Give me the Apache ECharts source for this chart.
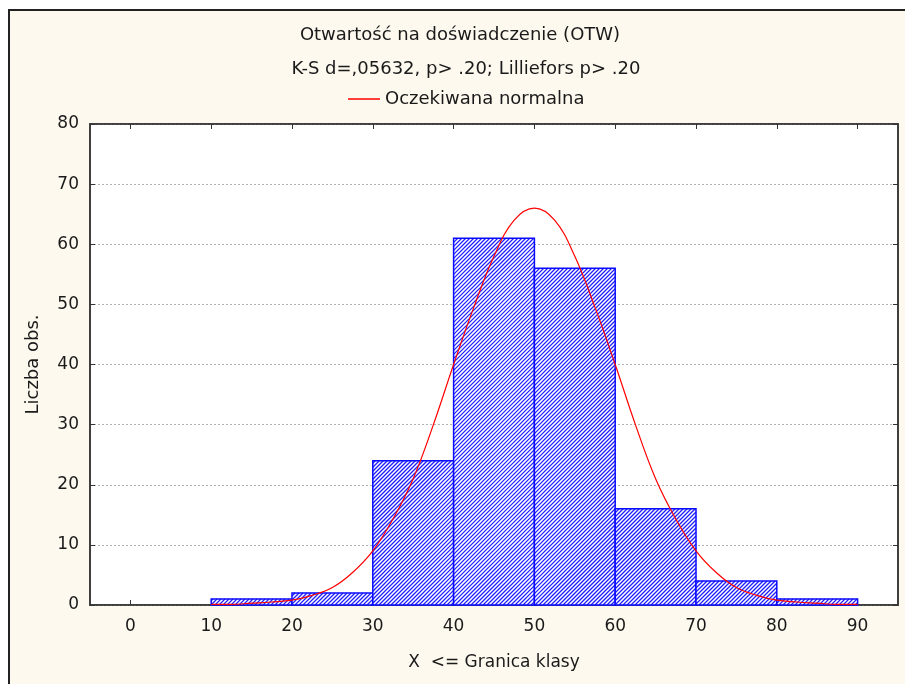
<!DOCTYPE html>
<html lang="pl">
<head>
<meta charset="UTF-8">
<title>Otwartość na doświadczenie (OTW)</title>
<style>
  html, body { margin: 0; padding: 0; background: #fff; }
  #main { width: 905px; height: 684px; }
</style>
</head>
<body>
<div id="main"></div>
<script src="https://cdn.jsdelivr.net/npm/echarts@6/dist/echarts.min.js"></script>
<script>
// histogram classes: [lower bound, upper bound, count]
var binFrom = [10, 20, 30, 40, 50, 60, 70, 80];
var binTo   = [20, 30, 40, 50, 60, 70, 80, 90];
var counts  = [1, 2, 24, 61, 56, 16, 4, 1];

// expected normal curve
var curveX = [10, 12.5, 15, 17.5, 20, 22.5, 25, 27.5, 30, 32.5, 35, 37.5, 40, 42.5, 45, 47.5, 50,
              52.5, 55, 57.5, 60, 62.5, 65, 67.5, 70, 72.5, 75, 77.5, 80, 82.5, 85, 87.5, 90];
var curveY = [0.1, 0.1, 0.3, 0.5, 0.8, 1.6, 2.9, 5.4, 9, 14.3, 21, 30, 40, 49.5, 58, 64, 66,
              64, 58, 49.5, 40, 30, 21, 14.3, 9, 5.4, 2.9, 1.6, 0.8, 0.5, 0.3, 0.1, 0.1];

var xTicks = [0, 10, 20, 30, 40, 50, 60, 70, 80, 90];

var textColor = '#1a1a1a';
var font = 'DejaVu Sans, Verdana, sans-serif';
var hatchStep = 4;

var bins = counts.map(function (v, i) { return [binFrom[i], binTo[i], v]; });
var curve = curveX.map(function (x, i) { return [x, curveY[i]]; });

// bar = white rect + "/" hatch lines (x + y = c) clipped to the rect + blue outline
function renderBin(params, api) {
    var p0 = api.coord([api.value(0), 0]);
    var p1 = api.coord([api.value(1), api.value(2)]);
    var x0 = p0[0], x1 = p1[0], y0 = p1[1], y1 = p0[1];
    var children = [{
        type: 'rect',
        shape: { x: x0, y: y0, width: x1 - x0, height: y1 - y0 },
        style: { fill: '#fff' }
    }];
    var cStart = Math.ceil((x0 + y0) / hatchStep) * hatchStep;
    for (var c = cStart; c <= x1 + y1; c += hatchStep) {
        var xa = Math.max(x0, c - y1), xb = Math.min(x1, c - y0);
        if (xb <= xa) continue;
        children.push({
            type: 'line',
            shape: { x1: xa, y1: c - xa, x2: xb, y2: c - xb },
            style: { stroke: '#2020ff', lineWidth: 1.3 }
        });
    }
    children.push({
        type: 'rect',
        shape: { x: x0, y: y0, width: x1 - x0, height: y1 - y0 },
        style: { fill: null, stroke: '#0a0aff', lineWidth: 1.5 }
    });
    return { type: 'group', children: children };
}

var chart = echarts.init(document.getElementById('main'));

var option = {
    animation: false,
    textStyle: { fontFamily: font },
    graphic: [{
        type: 'rect',
        z: -10,
        shape: { x: 9, y: 10, width: 905, height: 690 },
        style: { fill: '#fdf9ee', stroke: '#222', lineWidth: 2 }
    }],
    title: [{
        text: 'Otwartość na doświadczenie (OTW)',
        left: 455, top: 21, textAlign: 'center',
        textStyle: { fontSize: 18, fontWeight: 'normal', color: textColor, fontFamily: font }
    }, {
        text: 'K-S d=,05632, p> .20; Lilliefors p> .20',
        left: 461, top: 55, textAlign: 'center',
        textStyle: { fontSize: 18, fontWeight: 'normal', color: textColor, fontFamily: font }
    }],
    legend: {
        top: 85, left: 343,
        itemWidth: 32, itemHeight: 1.5, itemGap: 10,
        textStyle: { fontSize: 18, color: textColor, fontFamily: font },
        data: [{ name: 'Oczekiwana normalna', icon: 'rect' }]
    },
    grid: {
        left: 90, top: 124, width: 808, height: 481,
        show: true, backgroundColor: '#fff', borderColor: '#333', borderWidth: 1.5
    },
    xAxis: [{
        type: 'value', min: -5, max: 95,
        name: 'X  <= Granica klasy', nameLocation: 'middle', nameGap: 49,
        nameTextStyle: { fontSize: 17, color: textColor },
        axisLine: { onZero: false, lineStyle: { color: '#333', width: 1.5 } },
        axisTick: { inside: true, length: 5, customValues: xTicks, lineStyle: { color: '#333' } },
        axisLabel: { customValues: xTicks, fontSize: 17, color: textColor, margin: 13 },
        splitLine: { show: false }
    }, {
        type: 'value', min: -5, max: 95, position: 'top',
        axisLine: { onZero: false, lineStyle: { color: '#333', width: 1.5 } },
        axisTick: { inside: true, length: 5, customValues: xTicks, lineStyle: { color: '#333' } },
        axisLabel: { show: false },
        splitLine: { show: false }
    }],
    yAxis: [{
        type: 'value', min: 0, max: 80, interval: 10,
        name: 'Liczba obs.', nameLocation: 'middle', nameGap: 48, nameRotate: 90,
        nameTextStyle: { fontSize: 18, color: textColor },
        axisLine: { show: true, onZero: false, lineStyle: { color: '#333', width: 1.5 } },
        axisTick: { show: true, inside: true, length: 5, lineStyle: { color: '#333' } },
        axisLabel: { fontSize: 17, color: textColor, margin: 11 },
        splitLine: { lineStyle: { color: '#b0b0b0', type: [2, 2] } }
    }, {
        type: 'value', min: 0, max: 80, interval: 10, position: 'right',
        axisLine: { show: true, onZero: false, lineStyle: { color: '#333', width: 1.5 } },
        axisTick: { show: true, inside: true, length: 5, lineStyle: { color: '#333' } },
        axisLabel: { show: false },
        splitLine: { show: false }
    }],
    series: [{
        name: 'Liczba obs.',
        type: 'custom',
        data: bins,
        encode: { x: [0, 1], y: 2 },
        renderItem: renderBin
    }, {
        name: 'Oczekiwana normalna',
        type: 'line',
        data: curve,
        smooth: 0.4,
        showSymbol: false,
        color: '#ff0000',
        lineStyle: { color: '#ff0000', width: 1.2 },
        z: 5
    }]
};

chart.setOption(option);
</script>
</body>
</html>
